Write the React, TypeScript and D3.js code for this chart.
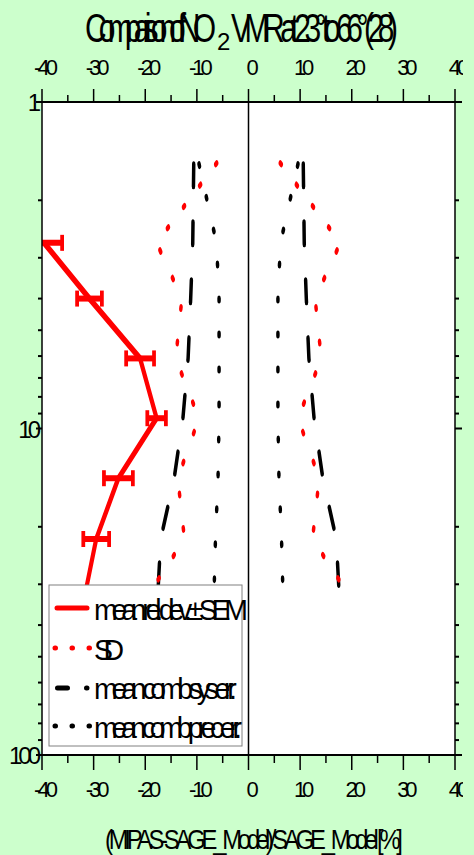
import React from 'react';
import * as d3 from 'd3';

// Pressure levels [hPa] of the comparison profiles
const pressureLevels = [1.52, 2.7, 4.0, 6.1, 9.3, 14.2, 21.8, 33.0];
// Mean relative deviation with its standard error of the mean
const meanPressure = [2.7, 4.0, 6.1, 9.3, 14.2, 21.8, 33.0];
const meanRelDev = [-39.6, -30.8, -21.0, -17.8, -25.2, -29.5, -31.8];
const meanSem = [3.5, 2.4, 2.7, 1.8, 2.8, 2.5, 2.5];
// Spread and combined errors, drawn as +/- envelopes around zero
const stdDev = [5.9, 17.8, 12.9, 14.1, 9.6, 13.7, 12.4, 19.8];
const sysError = [10.6, 10.8, 11.2, 11.7, 12.7, 14.4, 17.0, 17.6];
const precError = [9.7, 6.2, 5.7, 5.7, 5.7, 5.9, 6.4, 6.7];

const xMajorTicks = [-40, -30, -20, -10, 0, 10, 20, 30, 40];
const xMinorTicks = [-35, -25, -15, -5, 5, 15, 25, 35];
const yLabelTicks = [1, 10, 100];

const legendLabels = ['mean rel. dev. \u00b1 SEM', 'SD', 'mean comb sys err.', 'mean comb prec err.'];
const legendWidths = [154, 30, 143, 148];

// Narrow, tightly set text: glyphs squeezed by k, spacing fitted to a target width
function TightText(props: { x: number; y: number; size: number; width: number; k?: number; children: React.ReactNode }) {
  const k = props.k ?? 0.75;
  return (
    <text
      transform={`translate(${props.x},${props.y}) scale(${k},1)`}
      fontSize={props.size}
      textLength={props.width / k}
      lengthAdjust="spacing"
    >
      {props.children}
    </text>
  );
}

export default function App() {
  const W = 474;
  const H = 855;
  const L = 42;
  const R = 455;
  const T = 102;
  const B = 755;
  // data layer is drawn in a horizontally stretched frame and squeezed back
  const SX = 0.58;

  const x = d3.scaleLinear().domain([-40, 40]).range([L, R]);
  const xs = d3.scaleLinear().domain([-40, 40]).range([L / SX, R / SX]);
  const y = d3.scaleLog().domain([1, 100]).range([T, B]);

  const line = d3
    .line<[number, number]>()
    .x((d) => xs(d[0]))
    .y((d) => y(d[1]));
  const envelope = (vals: number[], sign: number) =>
    line(vals.map((v, i) => [sign * v, pressureLevels[i]] as [number, number])) || '';
  const meanPath = line(meanRelDev.map((v, i) => [v, meanPressure[i]] as [number, number])) || '';

  const yTicks = y.ticks();
  const isMajorY = (v: number) => Math.abs(Math.log10(v) - Math.round(Math.log10(v))) < 1e-9;
  const font = "'Liberation Sans', Arial, Helvetica, sans-serif";

  const legendX = 49;
  const legendY = 585;
  const rowY = [608, 648, 688, 726];
  const baseY = [620, 660, 699, 738];

  return (
    <svg
      width={W}
      height={H}
      style={{ position: 'absolute', left: 0, top: 0, display: 'block' }}
      fontFamily={font}
    >
      <defs>
        <clipPath id="plotClip">
          <rect x={L} y={T} width={R - L} height={B - T} />
        </clipPath>
        <clipPath id="labelClip">
          <rect x={0} y={0} width={463} height={H} />
        </clipPath>
      </defs>
      <rect x={0} y={0} width={W} height={H} fill="#ccffcc" />
      <rect x={L} y={T} width={R - L} height={B - T} fill="#ffffff" />
      <line x1={x(0)} x2={x(0)} y1={T} y2={B} stroke="#000" strokeWidth={1.5} />

      <g clipPath="url(#plotClip)">
        <g transform={`scale(${SX},1)`}>
          {[1, -1].map((s) => (
            <path
              key={'prec' + s}
              d={envelope(precError, s)}
              fill="none"
              stroke="#000"
              strokeWidth={6}
              strokeLinecap="round"
              strokeDasharray="2 33"
              strokeDashoffset={-3}
            />
          ))}
          {[1, -1].map((s) => (
            <path
              key={'sys' + s}
              d={envelope(sysError, s)}
              fill="none"
              stroke="#000"
              strokeWidth={6}
              strokeLinecap="round"
              strokeLinejoin="round"
              strokeDasharray="22 36"
              strokeDashoffset={-3}
            />
          ))}
          {[1, -1].map((s) => (
            <path
              key={'sd' + s}
              d={envelope(stdDev, s)}
              fill="none"
              stroke="#ff0000"
              strokeWidth={6}
              strokeLinecap="round"
              strokeDasharray="2 33"
              strokeDashoffset={-3}
            />
          ))}
          <path d={meanPath} fill="none" stroke="#ff0000" strokeWidth={7} strokeLinejoin="round" />
          {meanRelDev.map((v, i) => {
            const py = y(meanPressure[i]);
            const x0 = xs(v - meanSem[i]);
            const x1 = xs(v + meanSem[i]);
            return (
              <g key={'eb' + i} stroke="#ff0000">
                <line x1={x0} x2={x1} y1={py} y2={py} strokeWidth={6} />
                <line x1={x0} x2={x0} y1={py - 8} y2={py + 8} strokeWidth={6.5} />
                <line x1={x1} x2={x1} y1={py - 8} y2={py + 8} strokeWidth={6.5} />
              </g>
            );
          })}
        </g>
      </g>

      {/* frame */}
      <g stroke="#000">
        <line x1={L} x2={R} y1={T} y2={T} strokeWidth={2} />
        <line x1={L} x2={R} y1={B} y2={B} strokeWidth={2} />
        <line x1={L} x2={L} y1={T} y2={B} strokeWidth={1.5} />
        <line x1={R} x2={R} y1={T} y2={B} strokeWidth={1.5} />
        {xMajorTicks.map((v) => (
          <g key={'xM' + v}>
            <line x1={x(v)} x2={x(v)} y1={T - 13} y2={T} strokeWidth={1.5} />
            <line x1={x(v)} x2={x(v)} y1={B} y2={B + 15} strokeWidth={1.5} />
          </g>
        ))}
        {xMinorTicks.map((v) => (
          <g key={'xm' + v}>
            <line x1={x(v)} x2={x(v)} y1={T - 7} y2={T} strokeWidth={1.5} />
            <line x1={x(v)} x2={x(v)} y1={B} y2={B + 8} strokeWidth={1.5} />
          </g>
        ))}
        {yTicks.map((v) => {
          const major = isMajorY(v);
          return (
            <g key={'y' + v}>
              <line x1={L - (major ? 6 : 4)} x2={L} y1={y(v)} y2={y(v)} strokeWidth={2} />
              <line x1={R} x2={R + (major ? 7 : 4)} y1={y(v)} y2={y(v)} strokeWidth={2} />
            </g>
          );
        })}
      </g>

      {/* tick labels */}
      <g clipPath="url(#labelClip)" fontSize={22} fill="#000" letterSpacing={-4} textAnchor="middle">
        {xMajorTicks.map((v) => (
          <g key={'xl' + v}>
            <text x={x(v) + 2} y={75}>{v}</text>
            <text x={x(v) + 2} y={797}>{v}</text>
          </g>
        ))}
      </g>
      <g fontSize={24} fill="#000" letterSpacing={-4} textAnchor="end">
        {yLabelTicks.map((v) => (
          <text key={'yl' + v} x={37} y={y(v) + 9}>{v}</text>
        ))}
      </g>

      {/* title */}
      <TightText x={85} y={42} size={40} width={131} k={0.75}>Comparison of NO</TightText>
      <text x={217} y={50} fontSize={24}>2</text>
      <TightText x={231} y={42} size={40} width={167} k={0.75}>VMR at 23° to 66° (28)</TightText>

      {/* axis title */}
      <TightText x={105} y={849} size={28} width={298} k={0.85}>(MIPAS-SAGE_Model)/SAGE_Model [%]</TightText>

      {/* legend */}
      <rect x={legendX} y={legendY} width={193} height={161} fill="#ffffff" stroke="#808080" strokeWidth={1} />
      <line x1={57} x2={87} y1={rowY[0]} y2={rowY[0]} stroke="#ff0000" strokeWidth={5} strokeLinecap="round" />
      <line x1={55} x2={90} y1={rowY[1]} y2={rowY[1]} stroke="#ff0000" strokeWidth={5} strokeLinecap="round" strokeDasharray="0.5 16.5" />
      <line x1={57.5} x2={87} y1={rowY[2]} y2={rowY[2]} stroke="#000" strokeWidth={5} strokeLinecap="round" strokeDasharray="10 19" />
      <line x1={55} x2={90} y1={rowY[3]} y2={rowY[3]} stroke="#000" strokeWidth={5} strokeLinecap="round" strokeDasharray="0.5 16.5" />
      {legendLabels.map((t, i) => (
        <TightText key={t} x={94} y={baseY[i]} size={30} width={legendWidths[i]} k={0.95}>
          {t}
        </TightText>
      ))}
    </svg>
  );
}
